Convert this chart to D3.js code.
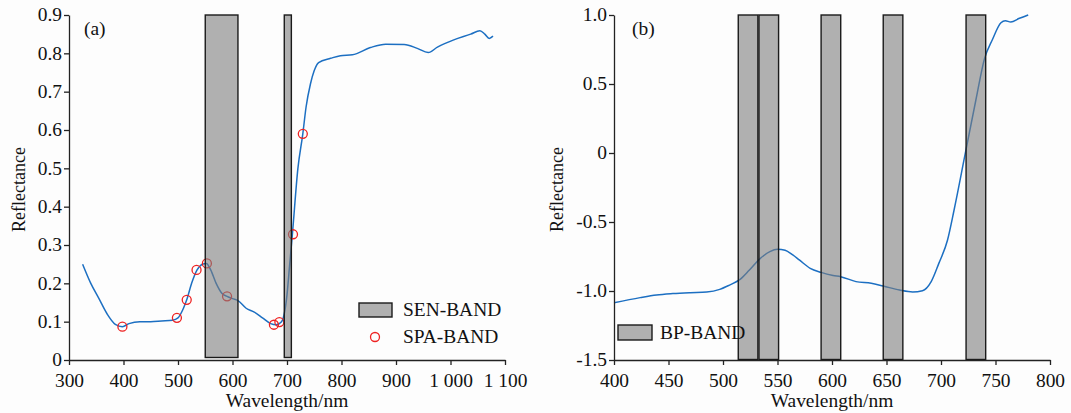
<!DOCTYPE html>
<head>
  <meta charset="utf-8">
  <script src="https://d3js.org/d3.v7.min.js"></script>
  <style>
    body { margin: 0; background: #fdfdfd; }
    svg { display: block; }
    text { font-family: 'Liberation Serif', 'Times New Roman', serif; fill: #111; }
  </style>
</head>
<body>
<div id="chart"></div>
<script>

  // ---- panel (a) data ----
  var waveA = [325, 340, 355, 370, 385, 398, 410, 430, 450, 470, 490, 500, 510, 516, 525, 535, 545, 552, 560, 570, 580, 590, 600, 610, 625, 640, 655, 670, 680, 690, 700, 705, 710, 720, 729, 735, 743, 750, 758, 780, 798, 820, 853, 881, 915, 939, 959, 976, 1006, 1037, 1054, 1063, 1071, 1078];
  var reflA = [0.25, 0.2, 0.16, 0.12, 0.093, 0.087, 0.095, 0.1, 0.1, 0.102, 0.104, 0.11, 0.135, 0.157, 0.2, 0.235, 0.25, 0.252, 0.235, 0.2, 0.175, 0.166, 0.16, 0.155, 0.135, 0.125, 0.11, 0.095, 0.092, 0.1, 0.17, 0.25, 0.33, 0.5, 0.59, 0.66, 0.72, 0.755, 0.776, 0.787, 0.794, 0.796, 0.815, 0.824, 0.823, 0.813, 0.802, 0.816, 0.835, 0.85, 0.859, 0.85, 0.839, 0.845];
  var spaWave = [398, 498, 516, 534, 553, 590, 676, 686, 711, 729];
  var spaRefl = [0.087, 0.110, 0.157, 0.235, 0.252, 0.166, 0.092, 0.099, 0.328, 0.59];
  var senBands = [[550, 610], [695, 708]];
  var xTicksA = [300, 400, 500, 600, 700, 800, 900, 1000, 1100];
  var yTicksA = [0, 0.1, 0.2, 0.3, 0.4, 0.5, 0.6, 0.7, 0.8, 0.9];

  // ---- panel (b) data ----
  var waveB = [400, 424, 439, 454, 470, 485, 497, 506, 515, 524, 534, 543, 550, 557, 564, 570, 580, 590, 601, 608, 622, 636, 647, 662, 674, 683, 691, 698, 706, 712, 722, 732, 740, 747, 755, 759, 764, 772, 780];
  var reflB = [-1.085, -1.048, -1.029, -1.019, -1.012, -1.007, -0.988, -0.957, -0.92, -0.85, -0.765, -0.715, -0.698, -0.705, -0.739, -0.775, -0.836, -0.865, -0.887, -0.896, -0.932, -0.944, -0.964, -0.993, -1.007, -0.998, -0.932, -0.8, -0.63, -0.413, -0.014, 0.384, 0.686, 0.819, 0.944, 0.959, 0.949, 0.976, 1.0];
  var bpBands = [[514, 532], [533, 551], [590, 608], [647, 665], [723, 741]];
  var xTicksB = [400, 450, 500, 550, 600, 650, 700, 750, 800];
  var yTicksB = [-1.5, -1.0, -0.5, 0, 0.5, 1.0];

  var svg = d3.select("#chart")
    .append("svg")
    .attr("width", 1071)
    .attr("height", 413);

  var fontSize = 18;
  var stretch = "scale(1.08,1)";   // the source lettering is a little wider than Times

  function drawPanel(opt) {
    var g = svg.append("g")
      .attr("transform", "translate(" + opt.left + "," + opt.top + ")");

    var x = d3.scaleLinear().domain(opt.xDomain).range([0, opt.width]);
    var y = d3.scaleLinear().domain(opt.yDomain).range([opt.height, 0]);

    // curve
    var line = d3.line()
      .x(function (d) { return x(d[0]); })
      .y(function (d) { return y(d[1]); })
      .curve(d3.curveMonotoneX);
    g.append("path")
      .datum(d3.zip(opt.wave, opt.refl))
      .attr("d", line)
      .attr("fill", "none")
      .attr("stroke", "#1c6fc2")
      .attr("stroke-width", 1.5);

    // selected points
    if (opt.ptsX) {
      g.selectAll("circle.pt")
        .data(d3.zip(opt.ptsX, opt.ptsY))
        .enter().append("circle")
        .attr("class", "pt")
        .attr("cx", function (d) { return x(d[0]); })
        .attr("cy", function (d) { return y(d[1]); })
        .attr("r", 4.5)
        .attr("fill", "none")
        .attr("stroke", "#ee2222")
        .attr("stroke-width", 1.3);
    }

    // bands drawn over the curve, semi transparent
    g.selectAll("rect.band")
      .data(opt.bands)
      .enter().append("rect")
      .attr("class", "band")
      .attr("x", function (d) { return x(d[0]); })
      .attr("width", function (d) { return x(d[1]) - x(d[0]); })
      .attr("y", y(opt.yDomain[1]))
      .attr("height", y(opt.yDomain[0]) - y(opt.yDomain[1]) - opt.bandGap)
      .attr("fill", "rgba(125,125,125,0.6)")
      .attr("stroke", "#1a1a1a")
      .attr("stroke-width", 1.4);

    // axes
    var xAxis = g.append("g")
      .attr("transform", "translate(0," + opt.height + ")")
      .call(d3.axisBottom(x).tickValues(opt.xTicks).tickSize(5).tickSizeOuter(0).tickFormat(opt.xFmt));
    var yAxis = g.append("g")
      .call(d3.axisLeft(y).tickValues(opt.yTicks).tickSize(5).tickSizeOuter(0).tickFormat(opt.yFmt));

    [xAxis, yAxis].forEach(function (a) {
      a.select(".domain").attr("stroke", "#222").attr("stroke-width", 1.3);
      a.selectAll(".tick line").attr("stroke", "#222").attr("stroke-width", 1.3);
      a.selectAll(".tick text")
        .attr("fill", "#111")
        .attr("transform", stretch)
        .style("font-size", fontSize + "px")
        .style("font-family", "'Liberation Serif', serif");
    });
    xAxis.selectAll(".tick text").attr("dy", null).attr("y", 27);
    yAxis.selectAll(".tick text").attr("x", -6.5);

    // axis titles
    g.append("text")
      .attr("transform", "translate(" + (opt.width / 2) + "," + (opt.height + 47) + ") " + stretch)
      .attr("text-anchor", "middle")
      .style("font-size", fontSize + "px")
      .text("Wavelength/nm");
    g.append("text")
      .attr("transform", "translate(" + opt.yLabelX + "," + (opt.height / 2 + 2) + ") rotate(-90)")
      .attr("text-anchor", "middle")
      .style("font-size", fontSize + "px")
      .text("Reflectance");

    // panel tag
    g.append("text")
      .attr("transform", "translate(" + opt.tagX + ",20) " + stretch)
      .style("font-size", fontSize + "px")
      .text(opt.tag);

    return { g: g, x: x, y: y };
  }

  var fmtA = function (d) { return d >= 1000 ? "1 " + String(d).slice(1) : String(d); };
  var a = drawPanel({
    left: 69, top: 15, width: 436, height: 345,
    xDomain: [300, 1100], yDomain: [0, 0.9],
    wave: waveA, refl: reflA, ptsX: spaWave, ptsY: spaRefl,
    bands: senBands, bandGap: 2.5, xTicks: xTicksA, yTicks: yTicksA,
    xFmt: fmtA, yFmt: function (d) { return d === 0 ? "0" : d3.format(".1f")(d); },
    yLabelX: -44, tag: "(a)", tagX: 15
  });

  var b = drawPanel({
    left: 614, top: 15, width: 436, height: 345,
    xDomain: [400, 800], yDomain: [-1.5, 1.0],
    wave: waveB, refl: reflB,
    bands: bpBands, bandGap: 0.5, xTicks: xTicksB, yTicks: yTicksB,
    xFmt: d3.format("d"), yFmt: function (d) { return d === 0 ? "0" : d3.format(".1f")(d).replace("\u2212", "-"); },
    yLabelX: -51, tag: "(b)", tagX: 18
  });

  // legend (a)
  var legA = a.g.append("g").attr("transform", "translate(290,288)");
  legA.append("rect").attr("width", 33).attr("height", 14)
    .attr("fill", "#b0b0b0").attr("stroke", "#1a1a1a").attr("stroke-width", 1.4);
  legA.append("text").attr("transform", "translate(44,13) " + stretch).style("font-size", fontSize + "px").text("SEN-BAND");
  legA.append("circle").attr("cx", 16).attr("cy", 34).attr("r", 4.5)
    .attr("fill", "none").attr("stroke", "#ee2222").attr("stroke-width", 1.3);
  legA.append("text").attr("transform", "translate(44,40) " + stretch).style("font-size", fontSize + "px").text("SPA-BAND");

  // legend (b)
  var legB = b.g.append("g").attr("transform", "translate(4,310)");
  legB.append("rect").attr("width", 34).attr("height", 15)
    .attr("fill", "#b0b0b0").attr("stroke", "#1a1a1a").attr("stroke-width", 1.4);
  legB.append("text").attr("transform", "translate(42,14) " + stretch).style("font-size", fontSize + "px").text("BP-BAND");

</script>
</body>
